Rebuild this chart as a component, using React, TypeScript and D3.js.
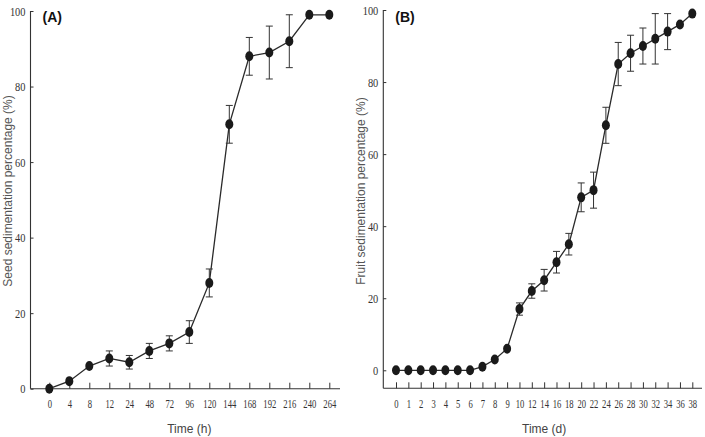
import React, { useEffect, useRef } from 'react';
import * as d3 from 'd3';

// Panel A: seed sedimentation over hours
const seedTimes = ['0', '4', '8', '12', '24', '48', '72', '96', '120', '144', '168', '192', '216', '240', '264'];
const seedMeans = [0, 2, 6, 8, 7, 10, 12, 15, 28, 70, 88, 89, 92, 99, 99];
const seedErrors = [0.5, 1, 1, 2, 1.8, 2, 2, 3, 3.7, 5, 5, 7, 7, 0.5, 0.5];

// Panel B: fruit sedimentation over days
const fruitDays = ['0', '1', '2', '3', '4', '5', '6', '7', '8', '9', '10', '12', '14', '16', '18', '20', '22', '24', '26', '28', '30', '32', '34', '36', '38'];
const fruitMeans = [0, 0, 0, 0, 0, 0, 0, 1, 3, 6, 17, 22, 25, 30, 35, 48, 50, 68, 85, 88, 90, 92, 94, 96, 99];
const fruitErrors = [0, 0, 0, 0, 0, 0, 0, 0.5, 1, 1, 1.7, 2, 3, 3, 3, 4, 5, 5, 6, 5, 5, 7, 5, 1, 1];

const yTicks = [0, 20, 40, 60, 80, 100];

const serif = '"Liberation Serif", "Times New Roman", serif';
const sans = '"Liberation Sans", Arial, sans-serif';

function drawPanel(svg, opt) {
  const { cats, means, errs, left, right, xRange, yDomain, yRange, axisY, label, yTitle, xTitle, yTitleX } = opt;

  const x = d3.scalePoint().domain(cats).range(xRange);
  const y = d3.scaleLinear().domain(yDomain).range(yRange);
  const g = svg.append('g');

  // axis lines drawn by hand so they can extend past the outer categories
  g.append('line')
    .attr('x1', left).attr('x2', left)
    .attr('y1', y(100)).attr('y2', axisY)
    .attr('stroke', '#333').attr('stroke-width', 1.1);
  g.append('line')
    .attr('x1', left).attr('x2', right)
    .attr('y1', axisY).attr('y2', axisY)
    .attr('stroke', '#333').attr('stroke-width', 1.1);

  const yAxis = g.append('g')
    .attr('transform', `translate(${left},0)`)
    .call(d3.axisLeft(y).tickValues(yTicks).tickSizeInner(-3).tickSizeOuter(0).tickPadding(5));
  yAxis.select('.domain').remove();
  yAxis.selectAll('line').attr('stroke', '#333');
  yAxis.selectAll('text')
    .attr('font-family', serif).attr('font-size', 13).attr('fill', '#333')
    .attr('textLength', (d) => String(d).length * 5.2)
    .attr('lengthAdjust', 'spacingAndGlyphs');

  const xAxis = g.append('g')
    .attr('transform', `translate(0,${axisY})`)
    .call(d3.axisBottom(x).tickSizeInner(-6).tickSizeOuter(0).tickPadding(10));
  xAxis.select('.domain').remove();
  xAxis.selectAll('line').attr('stroke', '#333');
  xAxis.selectAll('text')
    .attr('font-family', serif).attr('font-size', 13.5).attr('fill', '#333')
    .attr('textLength', (d) => String(d).length * 4.3)
    .attr('lengthAdjust', 'spacingAndGlyphs');

  const pts = cats.map((c, i) => ({ c, v: means[i], e: errs[i] }));

  g.append('path')
    .datum(pts)
    .attr('fill', 'none')
    .attr('stroke', '#2a2a2a')
    .attr('stroke-width', 1.3)
    .attr('d', d3.line().x((d) => x(d.c)).y((d) => y(d.v)));

  // error bars with caps
  const eb = g.append('g').attr('stroke', '#333').attr('stroke-width', 1);
  pts.filter((d) => d.e >= 1.5).forEach((d) => {
    const cx = x(d.c);
    eb.append('line').attr('x1', cx).attr('x2', cx).attr('y1', y(d.v + d.e)).attr('y2', y(d.v - d.e));
    eb.append('line').attr('x1', cx - 3.5).attr('x2', cx + 3.5).attr('y1', y(d.v + d.e)).attr('y2', y(d.v + d.e));
    eb.append('line').attr('x1', cx - 3.5).attr('x2', cx + 3.5).attr('y1', y(d.v - d.e)).attr('y2', y(d.v - d.e));
  });

  g.append('g')
    .selectAll('ellipse')
    .data(pts)
    .enter()
    .append('ellipse')
    .attr('cx', (d) => x(d.c))
    .attr('cy', (d) => y(d.v))
    .attr('rx', 4)
    .attr('ry', 5)
    .attr('fill', '#1a1a1a');

  g.append('text')
    .attr('x', left + 12).attr('y', 22)
    .attr('font-family', sans).attr('font-weight', 'bold').attr('font-size', 14)
    .attr('fill', '#111')
    .text(label);

  g.append('text')
    .attr('x', (xRange[0] + xRange[1]) / 2).attr('y', 433)
    .attr('text-anchor', 'middle')
    .attr('font-family', sans).attr('font-size', 12).attr('fill', '#444')
    .text(xTitle);

  g.append('text')
    .attr('transform', `translate(${yTitleX},191) rotate(-90)`)
    .attr('text-anchor', 'middle')
    .attr('font-family', sans).attr('font-size', 12).attr('fill', '#555')
    .text(yTitle);
}

export default function App() {
  const ref = useRef(null);

  useEffect(() => {
    const svg = d3.select(ref.current);
    svg.selectAll('*').remove();

    drawPanel(svg, {
      cats: seedTimes, means: seedMeans, errs: seedErrors,
      left: 30.5, right: 340, xRange: [49.3, 329.3],
      yDomain: [0, 100], yRange: [388.7, 11], axisY: 388.7,
      label: '(A)', xTitle: 'Time (h)',
      yTitle: 'Seed sedimentation percentage (%)', yTitleX: 12,
    });

    drawPanel(svg, {
      cats: fruitDays, means: fruitMeans, errs: fruitErrors,
      left: 383.3, right: 702, xRange: [396, 692.3],
      yDomain: [-5, 100], yRange: [388.3, 10], axisY: 388.3,
      label: '(B)', xTitle: 'Time (d)',
      yTitle: 'Fruit sedimentation percentage (%)', yTitleX: 365,
    });
  }, []);

  return (
    <svg
      ref={ref}
      width={705}
      height={437}
      style={{ position: 'absolute', left: 0, top: 0, background: '#fff' }}
    />
  );
}
